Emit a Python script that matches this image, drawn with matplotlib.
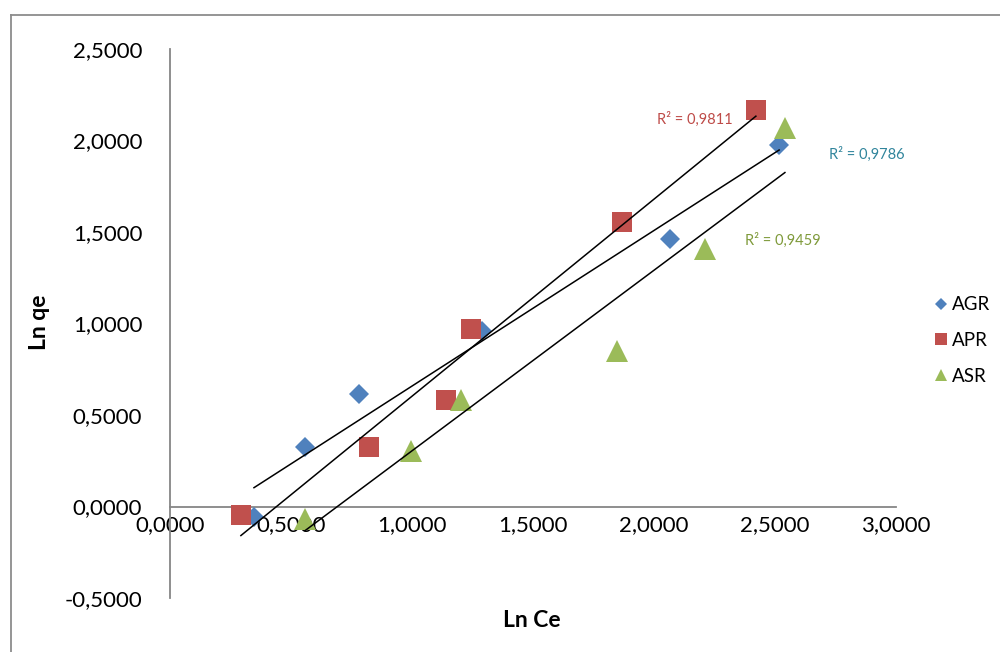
import numpy as np
import matplotlib
matplotlib.use("Agg")
import matplotlib.pyplot as plt
from matplotlib.ticker import FuncFormatter, MultipleLocator
from matplotlib.lines import Line2D

plt.rcParams['font.family'] = ['Lato', 'DejaVu Sans']

# Freundlich isotherm data (ln Ce vs ln qe)
agr_x = [0.347, 0.558, 0.781, 1.289, 2.066, 2.517]
agr_y = [-0.055, 0.323, 0.613, 0.957, 1.461, 1.975]

apr_x = [0.293, 0.822, 1.140, 1.244, 1.868, 2.421]
apr_y = [-0.049, 0.323, 0.580, 0.968, 1.554, 2.166]

asr_x = [0.558, 0.996, 1.202, 1.847, 2.211, 2.541]
asr_y = [-0.066, 0.301, 0.580, 0.848, 1.406, 2.068]

series_names = ["AGR", "APR", "ASR"]
r2_labels = ["R² = 0,9786", "R² = 0,9811", "R² = 0,9459"]

fig = plt.figure(figsize=(10, 6.52), dpi=100)
ax = fig.add_axes([0.170, 0.0828, 0.726, 0.842])

blue, red, green = "#4F81BD", "#C0504D", "#9BBB59"
styles = [
    (agr_x, agr_y, "D", blue, 10.5),
    (apr_x, apr_y, "s", red, 14.5),
    (asr_x, asr_y, "^", green, 15.5),
]

handles = []
for (xs, ys, mk, col, ms), name in zip(styles, series_names):
    h, = ax.plot(xs, ys, linestyle="none", marker=mk, color=col,
                 markersize=ms, markeredgewidth=0, label=name, zorder=3)
    handles.append(h)

# Linear trendlines over each series' range
for xs, ys, *_ in styles:
    xs_a, ys_a = np.asarray(xs), np.asarray(ys)
    k, b = np.polyfit(xs_a, ys_a, 1)
    xx = np.array([xs_a.min(), xs_a.max()])
    ax.plot(xx, k * xx + b, color="black", lw=1.1, zorder=4)

ax.set_xlim(0, 3)
ax.set_ylim(-0.5, 2.5)
ax.xaxis.set_major_locator(MultipleLocator(0.5))
ax.yaxis.set_major_locator(MultipleLocator(0.5))
fmt = FuncFormatter(lambda v, p: f"{v:.4f}".replace(".", ","))
ax.xaxis.set_major_formatter(fmt)
ax.yaxis.set_major_formatter(fmt)

for s in ["top", "right"]:
    ax.spines[s].set_visible(False)
ax.spines["bottom"].set_position(("data", 0))
for s in ["left", "bottom"]:
    ax.spines[s].set_color("#868686")
    ax.spines[s].set_linewidth(1.3)

ax.tick_params(axis="both", length=0, labelsize=16, colors="black")
ax.tick_params(axis="x", pad=6)
ax.tick_params(axis="y", pad=20)

fig.text(0.532, 0.049, "Ln Ce", ha="center", va="center",
         fontsize=16.5, fontweight="bold")
fig.text(0.040, 0.506, "Ln qe", ha="center", va="center",
         fontsize=16.5, fontweight="bold", rotation=90)

# R² annotations
ax.text(2.167, 2.115, r2_labels[1], color="#BE4B48", fontsize=10.5,
        ha="center", va="center")
ax.text(2.880, 1.925, r2_labels[0], color="#31859C", fontsize=10.5,
        ha="center", va="center")
ax.text(2.533, 1.455, r2_labels[2], color="#7F9A3A", fontsize=10.5,
        ha="center", va="center")

ax.legend(handles=handles, loc="center left", bbox_to_anchor=(0.918, 0.478),
          bbox_transform=fig.transFigure, frameon=False, fontsize=13.5,
          handlelength=0.6, handletextpad=0.3, labelspacing=1.0,
          markerscale=0.6)

# Outer chart border
border_col = "#8C8C8C"
fig.add_artist(Line2D([0.0105, 0.0105], [0.0, 0.977], color=border_col,
                      lw=1.3, transform=fig.transFigure))
fig.add_artist(Line2D([0.0105, 1.0], [0.977, 0.977], color=border_col,
                      lw=1.3, transform=fig.transFigure))

fig.savefig("out.png", dpi=100, facecolor="white")
